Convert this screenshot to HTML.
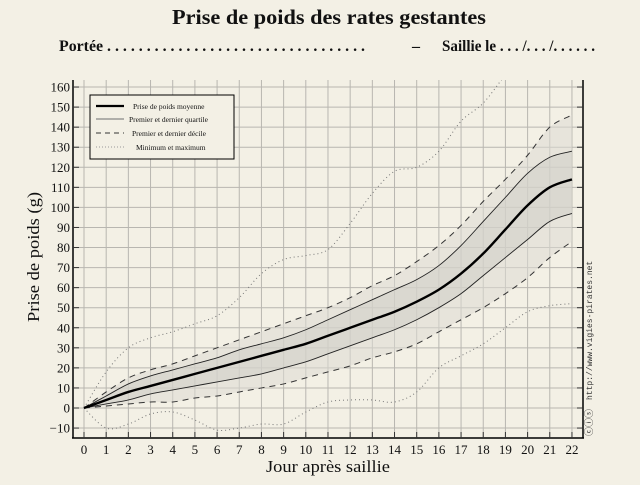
<!DOCTYPE html>
<html><head><meta charset="utf-8"><style>
html,body{margin:0;padding:0;background:#f3f0e5;}
body{width:640px;height:480px;overflow:hidden;font-family:"Liberation Serif",serif;}
</style></head><body>
<svg id="s" width="640" height="480" xmlns="http://www.w3.org/2000/svg" font-family="Liberation Serif, serif">
<rect width="640" height="480" fill="#f3f0e5"/>
<text x="172" y="24" textLength="314" lengthAdjust="spacingAndGlyphs" font-size="21" font-weight="bold" fill="#111">Prise de poids des rates gestantes</text>
<text x="59" y="51" textLength="306" lengthAdjust="spacingAndGlyphs" font-size="16" font-weight="bold" fill="#111">Portée . . . . . . . . . . . . . . . . . . . . . . . . . . . . . . . . .</text>
<text x="412" y="51" font-size="16" font-weight="bold" fill="#111">–</text>
<text x="442" y="51" textLength="153" lengthAdjust="spacingAndGlyphs" font-size="16" font-weight="bold" fill="#111">Saillie le . . . /. . . /. . . . . .</text>
<g id="grid"></g>
<g id="fills"></g>
<g id="lines"></g>
<g id="ax"></g>
<text transform="translate(39,322) rotate(-90)" textLength="130" lengthAdjust="spacingAndGlyphs" font-size="17" fill="#111">Prise de poids (g)</text>
<text x="266" y="472" textLength="124" lengthAdjust="spacingAndGlyphs" font-size="17" fill="#111">Jour après saillie</text>
<text transform="translate(592,400) rotate(-90)" font-family="Liberation Mono, monospace" font-size="8" fill="#333">http://www.vigies-pirates.net</text>
<text transform="translate(592,436) rotate(-90)" font-size="9" fill="#333">ⓒⓘⓢ</text>
<rect x="90" y="95" width="144" height="64" fill="#f3f0e5" stroke="#000" stroke-width="1"/>
<line x1="96" y1="106" x2="124" y2="106" stroke="#000" stroke-width="2.2"/>
<line x1="96" y1="119" x2="124" y2="119" stroke="#888" stroke-width="1.3"/>
<line x1="96" y1="133" x2="124" y2="133" stroke="#333" stroke-width="1" stroke-dasharray="5,4"/>
<line x1="96" y1="147" x2="124" y2="147" stroke="#999" stroke-width="1" stroke-dasharray="1,2"/>
<g font-size="7.5" fill="#111">
<text x="133" y="109">Prise de poids moyenne</text>
<text x="129" y="122">Premier et dernier quartile</text>
<text x="132" y="136">Premier et dernier décile</text>
<text x="136" y="150">Minimum et maximum</text>
</g>
</svg>
<script>
var X=function(d){return 84+d*22.18;},Y=function(v){return 408-v*2.006;};
var mean=[0,4,8,11,14,17,20,23,26,29,32,36,40,44,48,53,59,67,77,89,101,110,114];
var q3=[0,6,12,16,19,22,25,29,32,35,39,44,49,54,59,64,71,81,93,105,117,125,128];
var q1=[0,2,4,7,9,11,13,15,17,20,23,27,31,35,39,44,50,57,66,75,84,93,97];
var d9=[0,8,15,19,22,26,30,34,38,42,46,50,55,61,66,73,81,91,103,114,126,140,146];
var d1=[0,1,2,3,3,5,6,8,10,12,15,18,21,25,28,32,38,44,50,57,65,75,83];
var mx=[0,18,30,35,38,42,46,55,67,74,76,79,92,107,118,120,128,143,152,166,178,188,195];
var mn=[0,-10,-8,-3,-2,-6,-11,-10,-8,-8,-2,3,4,4,3,8,20,26,32,40,48,51,52];
function pts(a){return a.map(function(v,i){return[X(i),Y(v)];});}
function cr(p,move){var s=move?"M"+p[0][0]+","+p[0][1]:"L"+p[0][0]+","+p[0][1];
for(var i=0;i<p.length-1;i++){var p0=p[i-1]||p[i],p1=p[i],p2=p[i+1],p3=p[i+2]||p2;
s+=" C"+(p1[0]+(p2[0]-p0[0])/6)+","+(p1[1]+(p2[1]-p0[1])/6)+" "+(p2[0]-(p3[0]-p1[0])/6)+","+(p2[1]-(p3[1]-p1[1])/6)+" "+p2[0]+","+p2[1];}return s;}
var ns="http://www.w3.org/2000/svg";
function el(g,t,a){var e=document.createElementNS(ns,t);for(var k in a)e.setAttribute(k,a[k]);document.getElementById(g).appendChild(e);return e;}
for(var d=0;d<=22;d++)el("grid","line",{x1:X(d),y1:80,x2:X(d),y2:438,stroke:"#b8b6b0","stroke-width":1});
for(var v=-10;v<=160;v+=10)el("grid","line",{x1:73,y1:Y(v),x2:583,y2:Y(v),stroke:"#b8b6b0","stroke-width":1});
function band(a,b,c){var pa=pts(a),pb=pts(b).reverse();el("fills","path",{d:cr(pa,true)+" "+cr(pb,false)+" Z",fill:c,"fill-opacity":0.55});}
band(d9,d1,"#dcdad4");band(q3,q1,"#cfcdc6");
var defs=el("lines","clipPath",{id:"cp"});var r=document.createElementNS(ns,"rect");r.setAttribute("x",73);r.setAttribute("y",80);r.setAttribute("width",510);r.setAttribute("height",358);defs.appendChild(r);
function ln(a,st){st.d=cr(pts(a),true);st.fill="none";st["clip-path"]="url(#cp)";el("lines","path",st);}
ln(mx,{stroke:"#777","stroke-width":1,"stroke-dasharray":"1,3"});
ln(mn,{stroke:"#777","stroke-width":1,"stroke-dasharray":"1,3"});
ln(d9,{stroke:"#333","stroke-width":1,"stroke-dasharray":"6,5"});
ln(d1,{stroke:"#333","stroke-width":1,"stroke-dasharray":"6,5"});
ln(q3,{stroke:"#222","stroke-width":0.9});
ln(q1,{stroke:"#222","stroke-width":0.9});
ln(mean,{stroke:"#000","stroke-width":2.4});
el("ax","line",{x1:73,y1:80,x2:73,y2:438.5,stroke:"#000","stroke-width":1.5});
el("ax","line",{x1:583,y1:80,x2:583,y2:438.5,stroke:"#000","stroke-width":1.5});
el("ax","line",{x1:72,y1:438,x2:584,y2:438,stroke:"#000","stroke-width":1.5});
for(var d=0;d<=22;d++){el("ax","line",{x1:X(d),y1:432,x2:X(d),y2:438,stroke:"#333"});var t=el("ax","text",{x:X(d),y:454,"text-anchor":"middle","font-size":13,fill:"#111"});t.textContent=d;}
for(var v=-10;v<=160;v+=10){el("ax","line",{x1:73,y1:Y(v),x2:79,y2:Y(v),stroke:"#333"});el("ax","line",{x1:577,y1:Y(v),x2:583,y2:Y(v),stroke:"#333"});var t=el("ax","text",{x:70,y:Y(v)+4.5,"text-anchor":"end","font-size":13,fill:"#111"});t.textContent=v<0?"−"+(-v):v;}
</script>
</body></html>
